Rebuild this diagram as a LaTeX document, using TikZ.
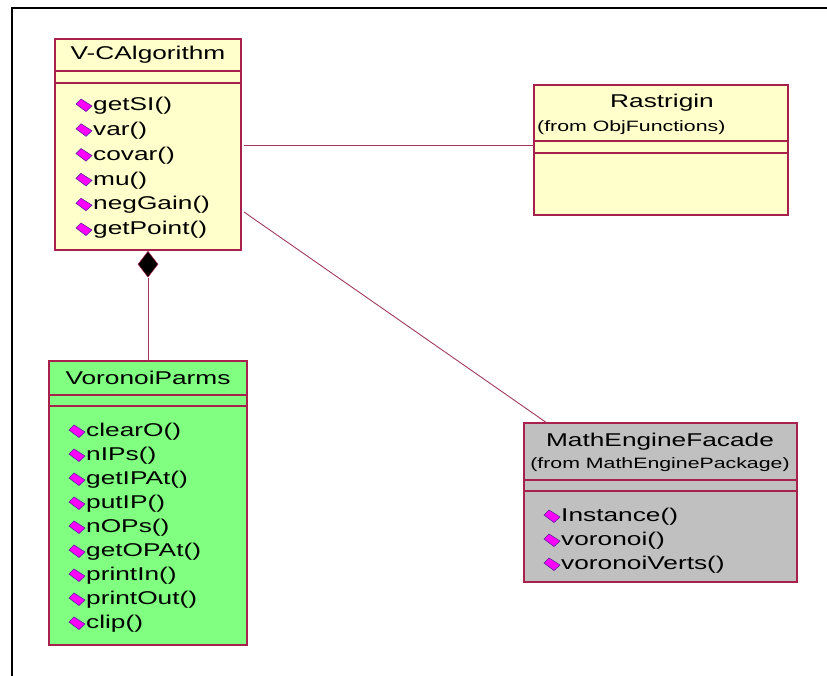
\documentclass[tikz,border=0pt]{standalone}
\usepackage{fontspec}
\usetikzlibrary{shapes.geometric}
\newfontfamily\umlfont[FakeStretch=1.42]{Liberation Sans}
\definecolor{umlborder}{HTML}{A8204C}
\definecolor{umlline}{HTML}{A03A5C}
\definecolor{noteyellow}{HTML}{FFFFCC}
\definecolor{partgreen}{HTML}{80FF80}
\definecolor{facadegray}{HTML}{C0C0C0}
\definecolor{opmagenta}{HTML}{FF00FF}
\definecolor{opedge}{HTML}{6020A0}

\begin{document}
\begin{tikzpicture}[x=1pt,y=-1pt,
  classbox/.style={rectangle, draw=umlborder, line width=1.1pt, inner sep=0pt, outer sep=0pt, anchor=north west},
  classname/.style={font=\umlfont\fontsize{18.5}{21}\selectfont, inner sep=0pt},
  fromtext/.style={font=\umlfont\fontsize{15}{18}\selectfont, inner sep=0pt},
  optext/.style={font=\umlfont\fontsize{18.5}{21}\selectfont, inner sep=0pt, anchor=west},
  sepline/.style={draw=umlborder, line width=1.1pt},
  link/.style={draw=umlline, line width=0.9pt},
  opicon/.pic={\filldraw[fill=opmagenta, draw=opedge, line width=0.6pt]
      (0,0) -- (5,-5) -- (16,2) -- (10,7.5) -- cycle;}
]
\useasboundingbox (0,0) rectangle (827,675);
\clip (0,0) rectangle (827,675);

% outer frame
\draw[line width=2pt] (11.5,720) -- (11.5,7.5) -- (860,7.5);

% ---- V-CAlgorithm ----
\node[classbox, fill=noteyellow, minimum width=186pt, minimum height=211pt] (vca) at (55,39) {};
\draw[sepline] (55,71) -- (241,71);
\draw[sepline] (55,83) -- (241,83);
\node[classname] (vcaname) at (148,55) {V-CAlgorithm};
\foreach \t [count=\i from 0] in {{getSI()},{var()},{covar()},{mu()},{negGain()},{getPoint()}} {
  \pic at (76,{106+24.8*\i-2}) {opicon};
  \node[optext] (vcaop\i) at (93,{106+24.8*\i}) {\t};
}

% ---- Rastrigin ----
\node[classbox, fill=noteyellow, minimum width=254pt, minimum height=130pt] (ras) at (534,85) {};
\draw[sepline] (534,141) -- (788,141);
\draw[sepline] (534,153) -- (788,153);
\node[classname] (rasname) at (662,103) {Rastrigin};
\node[fromtext, anchor=west] (rasfrom) at (537,128) {(from ObjFunctions)};

% ---- VoronoiParms ----
\node[classbox, fill=partgreen, minimum width=198pt, minimum height=284pt] (vp) at (49,361) {};
\draw[sepline] (49,395) -- (247,395);
\draw[sepline] (49,406) -- (247,406);
\node[classname] (vpname) at (148,378) {VoronoiParms};
\foreach \t [count=\i from 0] in {{clearO()},{nIPs()},{getIPAt()},{putIP()},{nOPs()},{getOPAt()},{printIn()},{printOut()},{clip()}} {
  \pic at (69,{432+24*\i-2}) {opicon};
  \node[optext] (vpop\i) at (86,{432+24*\i}) {\t};
}

% ---- MathEngineFacade ----
\node[classbox, fill=facadegray, minimum width=273pt, minimum height=159pt] (mef) at (524,423) {};
\draw[sepline] (524,480) -- (797,480);
\draw[sepline] (524,491) -- (797,491);
\node[classname] (mefname) at (660,442) {MathEngineFacade};
\node[fromtext] (meffrom) at (660,465) {(from MathEnginePackage)};
\foreach \t [count=\i from 0] in {{Instance()},{voronoi()},{voronoiVerts()}} {
  \pic at (544,{517+24*\i-2}) {opicon};
  \node[optext] (mefop\i) at (561,{517+24*\i}) {\t};
}

% ---- associations ----
\coordinate (vcaR) at (244,145);
\draw[link] (vcaR) -- (vcaR -| ras.west);
\coordinate (vcaM) at (244,212);
\coordinate (mefTop) at (547,423);
\draw[link] (vcaM) -- (mefTop);

% ---- composition ----
\node[diamond, fill=black, draw=umlborder, line width=0.5pt, minimum width=20pt, minimum height=26pt, inner sep=0pt, anchor=north] (comp) at (148,251) {};
\draw[link] (comp.south) -- (vp.north);
\end{tikzpicture}
\end{document}
